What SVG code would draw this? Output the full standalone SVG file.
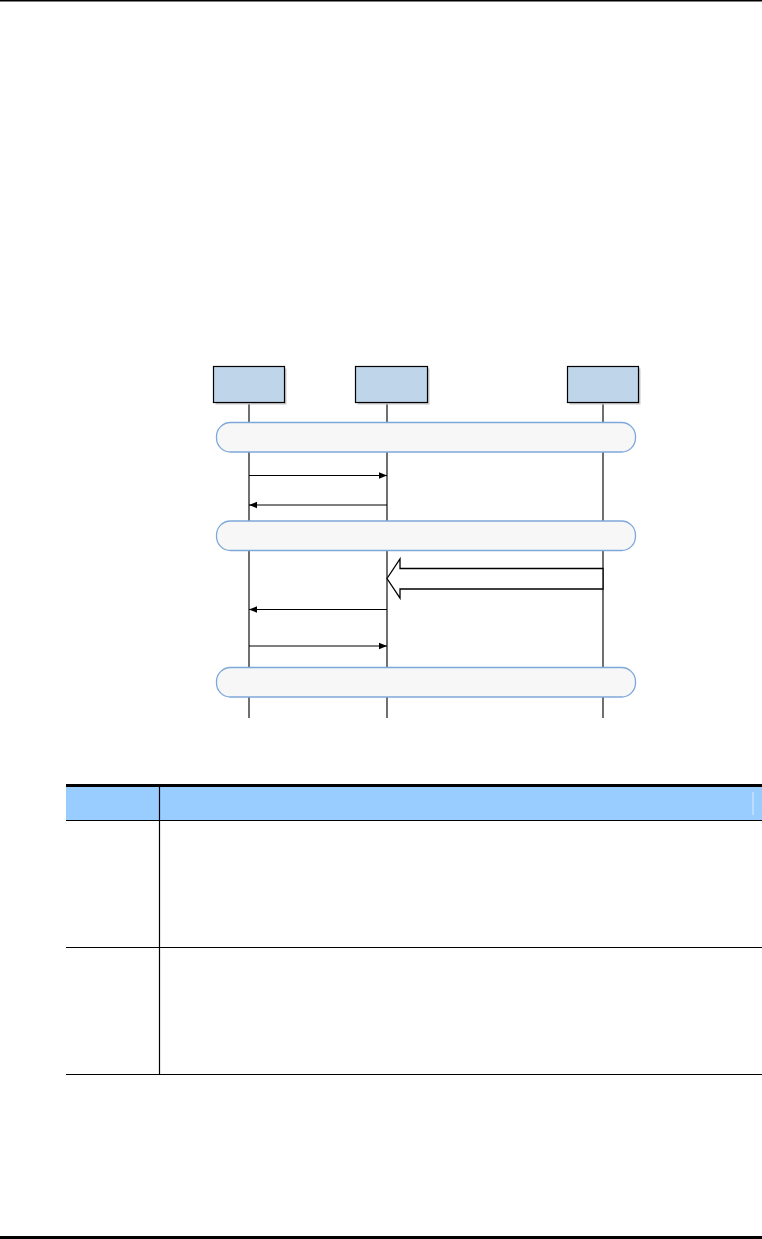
<svg xmlns="http://www.w3.org/2000/svg" width="762" height="1239" viewBox="0 0 762 1239">
<style>
.actor{fill:#BED5EA;stroke:#000;stroke-width:1.2}
.shadow{fill:#C8C8C8}
.life{stroke:#333;stroke-width:1.4;fill:none}
.bar{fill:#F7F7F7;stroke:#7EA8DA;stroke-width:1.3}
.msg{stroke:#000;stroke-width:1.2;fill:none;marker-end:url(#ah)}
.rule{stroke:#000;fill:none}
</style>
<defs>
<marker id="ah" viewBox="0 0 10 10" refX="10" refY="5" markerWidth="8" markerHeight="8" markerUnits="userSpaceOnUse" orient="auto">
<path d="M0,1 L10,5 L0,9 Z" fill="#000"/>
</marker>
</defs>
<rect x="0" y="0" width="762" height="1.5" fill="#000"/>
<rect x="0" y="1236" width="762" height="3" fill="#000"/>
<g id="lifelines">
<line class="life" x1="249" y1="402" x2="249" y2="718"/>
<line class="life" x1="387" y1="402" x2="387" y2="718"/>
<line class="life" x1="603" y1="402" x2="603" y2="718"/>
</g>
<g id="actor1"><rect class="shadow" x="215.5" y="368.5" width="71" height="36"/><rect class="actor" x="213.5" y="366.5" width="71" height="36"/></g>
<g id="actor2"><rect class="shadow" x="357.5" y="368.5" width="72" height="36"/><rect class="actor" x="355.5" y="366.5" width="72" height="36"/></g>
<g id="actor3"><rect class="shadow" x="569.5" y="368.5" width="71" height="36"/><rect class="actor" x="567.5" y="366.5" width="71" height="36"/></g>
<g id="bar1"><rect class="bar" x="216.5" y="422.5" width="419" height="29.5" rx="14" ry="14"/></g>
<g id="bar2"><rect class="bar" x="216.5" y="521" width="419" height="29.5" rx="14" ry="14"/></g>
<g id="bar3"><rect class="bar" x="216.5" y="667.5" width="419" height="29.5" rx="14" ry="14"/></g>
<g id="connectors">
<line class="msg" x1="249" y1="475.5" x2="387" y2="475.5"/>
<line class="msg" x1="387" y1="505" x2="249" y2="505"/>
<polygon points="387,578.5 400,559 400,568.5 603,568.5 603,589 400,589 400,598" fill="#fff" stroke="#000" stroke-width="1.3"/>
<line class="msg" x1="387" y1="609.5" x2="249" y2="609.5"/>
<line class="msg" x1="249" y1="646" x2="387" y2="646"/>
</g>
<g id="table">
<rect x="66" y="787" width="696" height="33" fill="#99CCFF"/>
<line x1="753" y1="792" x2="753" y2="815" stroke="#DDEEFF" stroke-width="1"/>
<rect x="66" y="784" width="696" height="3" fill="#000"/>
<line class="rule" x1="66" y1="820.5" x2="762" y2="820.5" stroke-width="1.2"/>
<line class="rule" x1="66" y1="947.5" x2="762" y2="947.5" stroke-width="1.2"/>
<line class="rule" x1="66" y1="1074.5" x2="762" y2="1074.5" stroke-width="1.2"/>
<line class="rule" x1="159.5" y1="787" x2="159.5" y2="1075" stroke-width="1.2"/>
</g>
</svg>
